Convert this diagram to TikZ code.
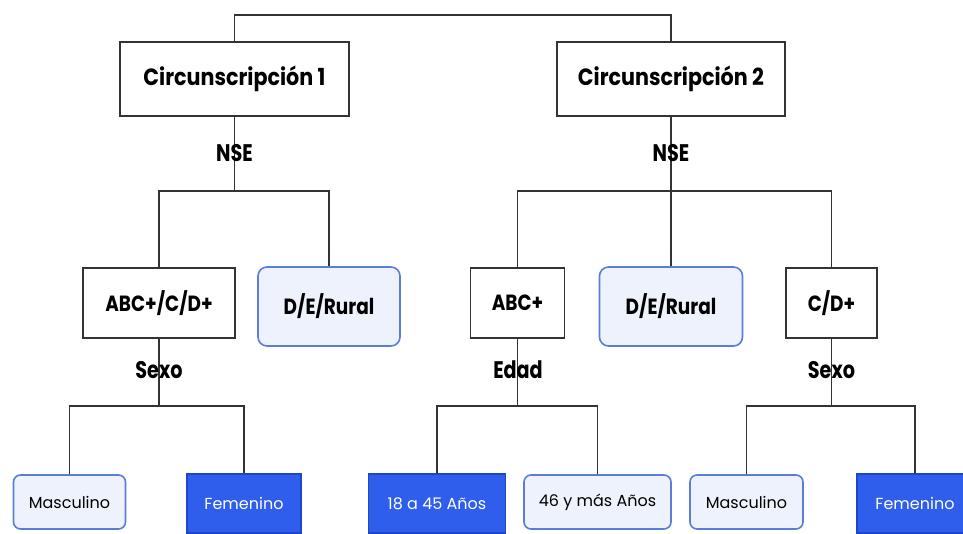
\documentclass[tikz,border=0pt]{standalone}
\usepackage{fontspec}
\setmainfont{Poppins}
\newfontfamily\bigcond[FakeStretch=0.88]{Poppins}
\newfontfamily\midcond[FakeStretch=0.84]{Poppins}
\newfontfamily\lblcond[FakeStretch=0.8]{Poppins}
\definecolor{linec}{HTML}{333333}
\definecolor{lightfill}{HTML}{EEF2FC}
\definecolor{lightdraw}{HTML}{5A7ED8}
\definecolor{bluefill}{HTML}{2F5EEC}
\definecolor{bluedraw}{HTML}{1F45C8}
\tikzset{
  plainbox/.style={draw=linec, line width=1.3pt, fill=white, rectangle, inner sep=0pt,
     font=\midcond\bfseries\fontsize{22}{24}\selectfont},
  topbox/.style={plainbox, font=\bigcond\bfseries\fontsize{23.5}{26}\selectfont},
  softbox/.style={draw=lightdraw, line width=1.6pt, fill=lightfill, rounded corners=9pt, inner sep=0pt,
     font=\midcond\bfseries\fontsize{22}{24}\selectfont},
  softsmall/.style={draw=lightdraw, line width=1.6pt, fill=lightfill, rounded corners=7pt, inner sep=0pt,
     font=\fontsize{16}{18}\selectfont},
  bluebox/.style={draw=bluedraw, line width=1.8pt, fill=bluefill, inner sep=0pt, text=white,
     font=\fontsize{16}{18}\selectfont},
  conn/.style={draw=linec, line width=1.3pt},
  lbl/.style={inner sep=1pt, font=\lblcond\bfseries\fontsize{24}{26}\selectfont}
}
\begin{document}
\begin{tikzpicture}[x=1pt,y=-1pt]
\useasboundingbox (0,0) rectangle (963,533);
% level 1
\node[topbox, minimum width=229pt, minimum height=74pt] (c1) at (234.5,79) {Circunscripción 1};
\node[topbox, minimum width=228pt, minimum height=74pt] (c2) at (671,79) {Circunscripción 2};
% level 2
\node[plainbox, minimum width=152pt, minimum height=70pt] (abc1) at (159,303) {ABC+/C/D+};
\node[softbox, minimum width=142pt, minimum height=79pt] (der1) at (329,306.5) {D/E/Rural};
\node[plainbox, minimum width=94pt, minimum height=70pt] (abc2) at (517.5,303) {ABC+};
\node[softbox, minimum width=143pt, minimum height=79pt] (der2) at (671,306.5) {D/E/Rural};
\node[plainbox, minimum width=91pt, minimum height=70pt] (cd2) at (831.5,303) {C/D+};
% level 3
\node[softsmall, minimum width=112pt, minimum height=54pt] (m1) at (69.5,502) {Masculino};
\node[bluebox, minimum width=114pt, minimum height=59pt] (f1) at (244,503.5) {Femenino};
\node[bluebox, minimum width=137pt, minimum height=59pt] (e1) at (437,503.5) {18 a 45 Años};
\node[softsmall, minimum width=147pt, minimum height=54pt] (e2) at (597.5,502) {46 y más Años};
\node[softsmall, minimum width=113pt, minimum height=54pt] (m2) at (746.5,502) {Masculino};
\node[bluebox, minimum width=116pt, minimum height=59pt] (f2) at (915,503.5) {Femenino};
% connectors
\coordinate (top) at (234.5,15);
\coordinate (b1) at (234.5,191);
\coordinate (b2) at (671,191);
\coordinate (b3) at (159,406);
\coordinate (b4) at (517.5,406);
\coordinate (b5) at (831.5,406);
\draw[conn] (c1.north) -- (top) -| (c2.north);
\draw[conn] (c1.south) -- (b1);
\draw[conn] (abc1.north) |- (b1) -| (der1.north);
\draw[conn] (c2.south) -- (der2.north);
\draw[conn] (abc2.north) |- (b2) -| (cd2.north);
\draw[conn] (abc1.south) -- (b3);
\draw[conn] (m1.north) |- (b3) -| (f1.north);
\draw[conn] (abc2.south) -- (b4);
\draw[conn] (e1.north) |- (b4) -| (e2.north);
\draw[conn] (cd2.south) -- (b5);
\draw[conn] (m2.north) |- (b5) -| (f2.north);
% labels
\node[lbl] (n1) at (234.5,153) {NSE};
\node[lbl] (n2) at (671,153) {NSE};
\node[lbl] (s1) at (159,370) {Sexo};
\node[lbl] (ed) at (518,370) {Edad};
\node[lbl] (s2) at (831.5,370) {Sexo};
\end{tikzpicture}
\end{document}
